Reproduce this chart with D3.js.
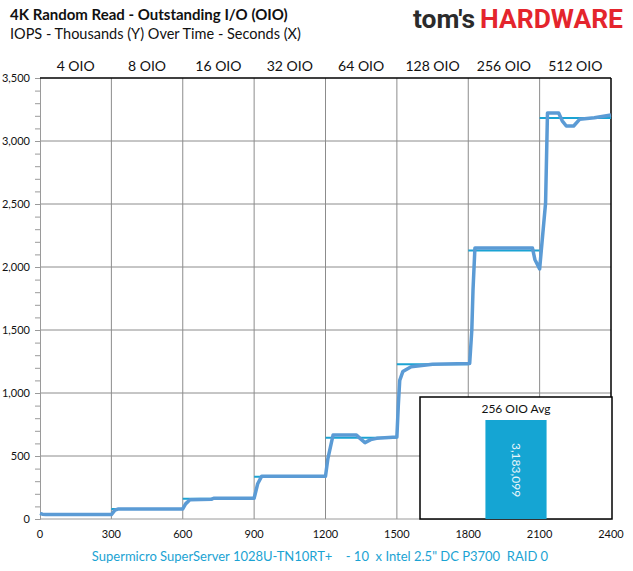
<!DOCTYPE html>
<html>
<head>
<meta charset="utf-8">
<script src="https://cdn.jsdelivr.net/npm/d3@7"></script>
<style>
  body { margin: 0; background: #fff; }
  svg { display: block; font-family: Lato, "Open Sans", sans-serif; }
</style>
</head>
<body>
<div id="chart"></div>
<script>
// data
var oioLabels = ["4 OIO", "8 OIO", "16 OIO", "32 OIO", "64 OIO", "128 OIO", "256 OIO", "512 OIO"];
var oioStart = [0, 300, 600, 900, 1200, 1500, 1800, 2100];
var oioAvg = [40, 79, 160, 336, 645, 1228, 2130, 3183];   // thousands IOPS
var xTicks = [0, 300, 600, 900, 1200, 1500, 1800, 2100, 2400];
var yTicks = [0, 500, 1000, 1500, 2000, 2500, 3000, 3500];

// IOPS (thousands) over time (seconds)
var seconds = [0, 10, 25, 300, 315, 330, 600, 612, 630, 720, 730, 900, 915, 932,
    1200, 1210, 1232, 1330, 1345, 1366, 1390, 1415, 1500, 1506, 1512, 1525, 1560, 1650,
    1806, 1815, 1820, 1828, 2070, 2080, 2100, 2125, 2133, 2180, 2195, 2212, 2243, 2268, 2330, 2400];
var iops = [45, 38, 35, 35, 70, 80, 80, 120, 152, 156, 165, 165, 280, 340,
    340, 480, 667, 667, 640, 606, 630, 640, 650, 900, 1100, 1170, 1209, 1228,
    1235, 1500, 1817, 2150, 2150, 2060, 1984, 2508, 3222, 3222, 3160, 3119, 3119, 3172, 3185, 3206];

var insetTitle = "256 OIO Avg";
var insetValue = 3183099;
var footer = "Supermicro SuperServer 1028U-TN10RT+    - 10  x Intel 2.5\" DC P3700  RAID 0";

var W = 633, H = 571;
var margin = {top: 78, right: 22, bottom: 52, left: 40};
var width = W - margin.left - margin.right,
    height = H - margin.top - margin.bottom;

var svg = d3.select("#chart").append("svg")
    .attr("width", W)
    .attr("height", H);

// titles
svg.append("text")
    .attr("x", 10).attr("y", 20)
    .attr("font-size", 15).attr("font-weight", "bold").attr("fill", "#111")
    .text("4K Random Read - Outstanding I/O (OIO)");
svg.append("text")
    .attr("x", 10).attr("y", 39)
    .attr("font-size", 14.5).attr("fill", "#111")
    .text("IOPS - Thousands (Y) Over Time - Seconds (X)");

// logo, two words squeezed to the reference width
svg.append("text")
    .attr("x", 413).attr("y", 28)
    .attr("font-family", "Roboto, sans-serif")
    .attr("font-weight", "bold").attr("font-size", 25)
    .attr("textLength", 62).attr("lengthAdjust", "spacingAndGlyphs")
    .attr("fill", "#2b2b2b")
    .text("tom's");
svg.append("text")
    .attr("x", 480).attr("y", 28)
    .attr("font-family", "Roboto, sans-serif")
    .attr("font-weight", "bold").attr("font-size", 25)
    .attr("textLength", 143).attr("lengthAdjust", "spacingAndGlyphs")
    .attr("fill", "#e4252d")
    .text("HARDWARE");

var g = svg.append("g")
    .attr("transform", "translate(" + margin.left + "," + margin.top + ")");

var x = d3.scaleLinear().domain([0, 2400]).range([0, width]);
var y = d3.scaleLinear().domain([0, 3500]).range([height, 0]);

// gridlines
g.selectAll(".hgrid")
    .data(yTicks.filter(function (d) { return d > 0 && d < 3500; }))
    .enter().append("line")
    .attr("x1", 0).attr("x2", width)
    .attr("y1", function (d) { return y(d); })
    .attr("y2", function (d) { return y(d); })
    .attr("stroke", "#8c8c8c").attr("stroke-width", 1);
g.selectAll(".vgrid")
    .data(xTicks.filter(function (d) { return d > 0 && d < 2400; }))
    .enter().append("line")
    .attr("y1", 0).attr("y2", height)
    .attr("x1", function (d) { return x(d); })
    .attr("x2", function (d) { return x(d); })
    .attr("stroke", "#8c8c8c").attr("stroke-width", 1);

// y axis with minor ticks every 100
var yAxis = g.append("g")
    .call(d3.axisLeft(y).tickValues(d3.range(0, 3501, 100)).tickSize(5).tickFormat(""));
yAxis.select(".domain").attr("stroke", "#9a9a9a");
yAxis.selectAll(".tick line").attr("stroke", "#9a9a9a");
g.selectAll(".ylab")
    .data(yTicks)
    .enter().append("text")
    .attr("x", -10)
    .attr("y", function (d) { return y(d); })
    .attr("dy", "0.35em")
    .attr("text-anchor", "end")
    .attr("font-size", 11).attr("fill", "#111")
    .text(function (d) { return d3.format(",")(d); });

// x axis
g.append("line")
    .attr("x1", 0).attr("x2", width)
    .attr("y1", height).attr("y2", height)
    .attr("stroke", "#9a9a9a");
g.selectAll(".xlab")
    .data(xTicks)
    .enter().append("text")
    .attr("x", function (d) { return x(d); })
    .attr("y", height + 19)
    .attr("text-anchor", "middle")
    .attr("font-size", 11).attr("fill", "#111")
    .text(function (d) { return d; });

// top and right frame
g.append("line").attr("x1", 0).attr("x2", width).attr("y1", 0).attr("y2", 0)
    .attr("stroke", "#000").attr("stroke-width", 1.5);
g.append("line").attr("x1", width).attr("x2", width).attr("y1", 0).attr("y2", height)
    .attr("stroke", "#000").attr("stroke-width", 1.5);

// OIO labels
g.selectAll(".oio")
    .data(oioLabels)
    .enter().append("text")
    .attr("x", function (d, i) { return x(oioStart[i] + 150); })
    .attr("y", -7)
    .attr("text-anchor", "middle")
    .attr("font-size", 14).attr("fill", "#111")
    .text(function (d) { return d; });

// average lines
g.selectAll(".avg")
    .data(oioAvg)
    .enter().append("line")
    .attr("x1", function (d, i) { return x(oioStart[i]); })
    .attr("x2", function (d, i) { return x(oioStart[i] + 300); })
    .attr("y1", function (d) { return y(d); })
    .attr("y2", function (d) { return y(d); })
    .attr("stroke", "#1ba3d3").attr("stroke-width", 2);

// main line
var pts = seconds.map(function (s, i) { return [s, iops[i]]; });
var line = d3.line()
    .x(function (d) { return x(d[0]); })
    .y(function (d) { return y(d[1]); });
g.append("path")
    .datum(pts)
    .attr("d", line)
    .attr("fill", "none")
    .attr("stroke", "#5b9bd5")
    .attr("stroke-width", 3.5)
    .attr("stroke-linejoin", "round");

// inset chart
var inset = svg.append("g").attr("transform", "translate(420,397)");
var iw = 192, ih = 122;
inset.append("rect")
    .attr("width", iw).attr("height", ih)
    .attr("fill", "#fff").attr("stroke", "#000").attr("stroke-width", 1.5);
inset.append("text")
    .attr("x", iw / 2).attr("y", 16)
    .attr("text-anchor", "middle")
    .attr("font-size", 12).attr("fill", "#111")
    .text(insetTitle);
var ix = d3.scaleBand().domain([insetTitle]).range([0, iw]).paddingInner(0).paddingOuter(1.07);
var iy = d3.scaleLinear().domain([0, insetValue]).range([ih, 23]);
inset.selectAll(".bar")
    .data([insetValue])
    .enter().append("rect")
    .attr("x", ix(insetTitle))
    .attr("width", ix.bandwidth())
    .attr("y", function (d) { return iy(d); })
    .attr("height", function (d) { return ih - iy(d); })
    .attr("fill", "#15a5d3");
inset.append("text")
    .attr("transform", "translate(" + (ix(insetTitle) + ix.bandwidth() / 2) + "," + (iy(insetValue) + 50) + ") rotate(90)")
    .attr("text-anchor", "middle")
    .attr("dy", "0.35em")
    .attr("font-size", 12).attr("fill", "#e8f6fb")
    .text(d3.format(",")(insetValue));

// footer
svg.append("text")
    .attr("x", 320).attr("y", 561)
    .attr("text-anchor", "middle")
    .attr("font-size", 13).attr("fill", "#1ba3d3")
    .attr("xml:space", "preserve")
    .style("white-space", "pre")
    .text(footer);
</script>
</body>
</html>
